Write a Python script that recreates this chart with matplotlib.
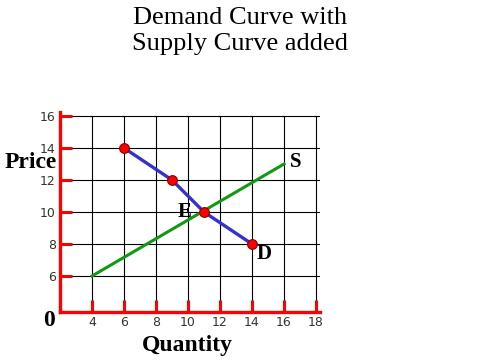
import matplotlib
matplotlib.use("Agg")
import matplotlib.pyplot as plt

# demand points and supply line
demand_q = [6, 9, 11, 14]
demand_p = [14, 12, 10, 8]
supply_q = [4, 16]
supply_p = [6, 13]
x_ticks = [4, 6, 8, 10, 12, 14, 16, 18]
y_ticks = [6, 8, 10, 12, 14, 16]

serif = "Liberation Serif"
red = "#ff0000"

fig = plt.figure(figsize=(4.8, 3.6), dpi=100)
ax = fig.add_axes([0.125, 0.1333, 0.5417, 0.5556])
ax.set_xlim(2, 18.25)
ax.set_ylim(3.75, 16.25)
for s in ax.spines.values():
    s.set_visible(False)

# grid
for y in y_ticks:
    ax.plot([2, 18.25], [y, y], color="black", lw=0.8, zorder=1)
for x in x_ticks:
    ax.plot([x, x], [4.5, 16], color="black", lw=0.8, zorder=1)
    ax.plot([x, x], [3.75, 4.5], color=red, lw=2.2, zorder=2, solid_capstyle="butt")
for y in y_ticks:
    ax.plot([2, 2.75], [y, y], color=red, lw=2.2, zorder=2, solid_capstyle="butt")

# axes lines
ax.plot([2, 2], [3.75, 16.25], color=red, lw=2.4, zorder=3, clip_on=False)
ax.plot([2, 18.25], [3.75, 3.75], color=red, lw=2.4, zorder=3, clip_on=False)

ax.plot(supply_q, supply_p, color="#119911", lw=2.2, zorder=4)
ax.plot(demand_q, demand_p, color="#3333cc", lw=2.4, zorder=5)
ax.plot(demand_q, demand_p, "o", color=red, mec="#880000", mew=0.8, ms=7, zorder=6)

ax.set_xticks(x_ticks)
ax.set_yticks(y_ticks)
ax.tick_params(length=0, labelsize=9, labelcolor="#333333", pad=3)
for lab in ax.get_xticklabels() + ax.get_yticklabels():
    lab.set_fontfamily("DejaVu Sans")

bold = dict(family=serif, fontweight="bold", color="black")
ax.text(16.4, 13.1, "S", fontsize=15, va="center", ha="left", **bold)
ax.text(14.3, 7.4, "D", fontsize=15, va="center", ha="left", **bold)
ax.text(10.2, 10.0, "E", fontsize=15, va="center", ha="right", **bold)

fig.text(31 / 480, 1 - 163 / 360, "Price", fontsize=17, ha="center", va="center", **bold)
fig.text(187 / 480, 1 - 345 / 360, "Quantity", fontsize=17, ha="center", va="center", **bold)
fig.text(49 / 480, 1 - 320 / 360, "0", fontsize=17, ha="center", va="center", **bold)

fig.text(240 / 480, 1 - 18 / 360, "Demand Curve with", family=serif, fontsize=19,
         ha="center", va="center")
fig.text(240 / 480, 1 - 44 / 360, "Supply Curve added", family=serif, fontsize=19,
         ha="center", va="center")

fig.savefig("out.png", dpi=100, facecolor="white")
